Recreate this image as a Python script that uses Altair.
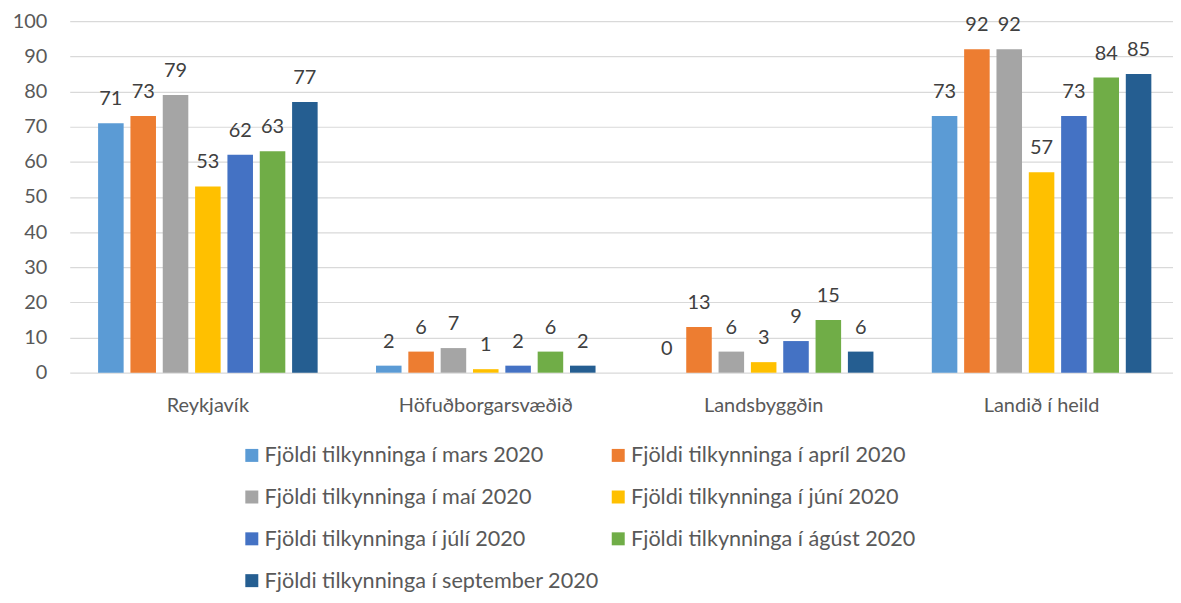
import altair as alt
import pandas as pd

categories = ["Reykjavík", "Höfuðborgarsvæðið", "Landsbyggðin", "Landið í heild"]
series = [
    "Fjöldi tilkynninga í mars 2020",
    "Fjöldi tilkynninga í apríl 2020",
    "Fjöldi tilkynninga í maí 2020",
    "Fjöldi tilkynninga í júní 2020",
    "Fjöldi tilkynninga í júlí 2020",
    "Fjöldi tilkynninga í ágúst 2020",
    "Fjöldi tilkynninga í september 2020",
]
colors = ["#5B9BD5", "#ED7D31", "#A5A5A5", "#FFC000", "#4472C4", "#70AD47", "#255E91"]

mars = [71, 2, 0, 73]
april = [73, 6, 13, 92]
mai = [79, 7, 6, 92]
juni = [53, 1, 3, 57]
juli = [62, 2, 9, 73]
agust = [63, 6, 15, 84]
september = [77, 2, 6, 85]
values = [mars, april, mai, juni, juli, agust, september]
y_ticks = [0, 10, 20, 30, 40, 50, 60, 70, 80, 90, 100]

rows = []
for s, vals in zip(series, values):
    for c, v in zip(categories, vals):
        rows.append({"cat": c, "series": s, "value": v})
df = pd.DataFrame(rows)

FONT = "Lato"
GREY = "#595959"

x = alt.X("cat:N", sort=categories, title=None,
          scale=alt.Scale(paddingInner=0.21, paddingOuter=0.09, align=0.567),
          axis=alt.Axis(labelAngle=0, labelFontSize=20, labelColor=GREY,
                        labelPadding=23, ticks=False, domain=False, labelFont=FONT))
xo = alt.XOffset("series:N", sort=series, scale=alt.Scale(paddingInner=0.21, paddingOuter=0))
y = alt.Y("value:Q", title=None,
          scale=alt.Scale(domain=[0, 100]),
          axis=alt.Axis(values=y_ticks, labelFontSize=20, labelOverlap=False,
                        labelColor=GREY, labelPadding=23, ticks=False, tickSize=0,
                        domain=False, gridColor="#D9D9D9", gridWidth=1.2,
                        labelFont=FONT))

base = alt.Chart(df)

bars = base.mark_bar().encode(
    x=x,
    xOffset=xo,
    y=y,
    color=alt.Color("series:N", sort=series,
                    scale=alt.Scale(domain=series, range=colors),
                    legend=alt.Legend(title=None, orient="none", legendX=172, legendY=425,
                                      columns=2, direction="horizontal",
                                      columnPadding=8, rowPadding=19,
                                      symbolType="square", symbolSize=170,
                                      symbolStrokeWidth=0, labelFontSize=21.7,
                                      labelColor=GREY, labelFont=FONT,
                                      labelLimit=600, symbolOffset=0, labelOffset=2,
                                      padding=0)),
)

labels = base.mark_text(dy=-18, baseline="alphabetic", fontSize=20,
                        color="#404040", font=FONT).encode(
    x=x,
    xOffset=xo,
    y=y,
    text="value:Q",
)

chart = (bars + labels).properties(
    width=1108, height=353,
    autosize=alt.AutoSizeParams(type="none"),
    padding={"left": 62, "top": 12, "right": 0, "bottom": 220},
).configure_view(stroke=None)

chart.save("out.html", embed_options={"renderer": "svg", "actions": False})
